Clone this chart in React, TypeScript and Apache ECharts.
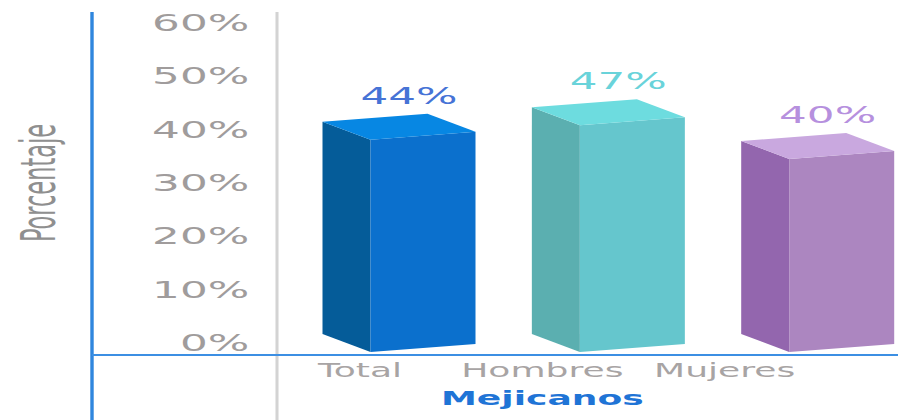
import React, { useEffect, useRef } from "react";
import * as echarts from "echarts";

const categories = ["Total", "Hombres", "Mujeres"];
const values = [44, 47, 40];
const yTicks = [0, 10, 20, 30, 40, 50, 60];
const xAxisTitle = "Mejicanos";
const yAxisTitle = "Porcentaje";
const leftColors = ["#055c99", "#5bafb0", "#9366ae"];
const frontColors = ["#0b70cd", "#65c6cd", "#ac86c0"];
const topColors = ["#0787e3", "#6ddcdf", "#c9a8df"];
const labelColors = ["#4673d6", "#69d3da", "#b690de"];

const S = 1.9;
const W = 898 / S;
const H = 420;

export default function App() {
  const ref = useRef<HTMLDivElement>(null);
  useEffect(() => {
    if (!ref.current) return;
    const chart = echarts.init(ref.current, undefined, { renderer: "svg" });
    const hw = 52.5 / S;
    const dx = -48 / S;
    const dy = -18;
    const slope = -8;
    chart.setOption({
      animation: false,
      backgroundColor: "#ffffff",
      grid: [
        { left: 277 / S, right: 0, top: 23, bottom: 77 },
        { left: 360 / S, right: (898 - 724) / S, top: 23, bottom: 65 },
        { left: 423 / S, right: (898 - 841) / S, top: 24, bottom: 68 },
      ],
      xAxis: [
        { gridIndex: 0, type: "value", show: false, min: 0, max: 1 },
        {
          gridIndex: 1,
          type: "category",
          data: categories,
          boundaryGap: false,
          axisLine: { show: false },
          axisTick: { show: false },
          axisLabel: {
            interval: 0,
            hideOverlap: false,
            margin: 6,
            fontSize: 19,
            color: "#a8a4a4",
            fontFamily: "DejaVu Sans",
          },
          name: xAxisTitle,
          nameLocation: "middle",
          nameGap: 34,
          nameTextStyle: {
            fontSize: 19,
            fontWeight: "bold",
            color: "#1f74d6",
            fontFamily: "DejaVu Sans",
          },
        },
        {
          gridIndex: 2,
          type: "category",
          data: categories,
          boundaryGap: false,
          show: false,
        },
      ],
      yAxis: [
        {
          gridIndex: 0,
          type: "value",
          min: yTicks[0],
          max: yTicks[yTicks.length - 1],
          interval: 10,
          axisLine: { show: false },
          axisTick: { show: false },
          splitLine: { show: false },
          axisLabel: {
            formatter: "{value}%",
            margin: (277 - 245) / S,
            fontSize: 23,
            color: "#a09c9c",
            fontFamily: "DejaVu Sans",
          },
          name: yAxisTitle,
          nameLocation: "middle",
          nameRotate: 90,
          nameGap: 115,
          nameTextStyle: {
            fontSize: 25,
            color: "#8f8f8f",
            fontFamily: "'Liberation Sans Narrow', 'DejaVu Sans Condensed', sans-serif",
          },
        },
        { gridIndex: 1, type: "value", show: false, min: 0, max: 60 },
        { gridIndex: 2, type: "value", show: false, min: 0, max: 68 },
      ],
      graphic: [
        {
          type: "line",
          shape: { x1: 92 / S, y1: 12, x2: 92 / S, y2: H },
          style: { stroke: "#2f86de", lineWidth: 1.8 },
        },
        {
          type: "line",
          shape: { x1: 277 / S, y1: 12, x2: 277 / S, y2: H },
          style: { stroke: "#d3d3d3", lineWidth: 1.6 },
        },
        {
          type: "line",
          shape: { x1: 92 / S, y1: 355, x2: W, y2: 355 },
          style: { stroke: "#3c8fe3", lineWidth: 2 },
        },
      ],
      series: [
        {
          type: "custom",
          xAxisIndex: 2,
          yAxisIndex: 2,
          data: values.map((v, i) => [i, v]),
          encode: { x: 0, y: 1 },
          renderItem: (params: any, api: any) => {
            const i = api.value(0);
            const v = api.value(1);
            const top = api.coord([i, v]);
            const base = api.coord([i, 0]);
            const cx = top[0];
            const yT = top[1];
            const yB = base[1];
            const xl = cx - hw;
            const xr = cx + hw;
            return {
              type: "group",
              children: [
                {
                  type: "polygon",
                  shape: {
                    points: [
                      [xl, yT],
                      [xl + dx, yT + dy],
                      [xl + dx, yB + dy],
                      [xl, yB],
                    ],
                  },
                  style: { fill: leftColors[i] },
                },
                {
                  type: "polygon",
                  shape: {
                    points: [
                      [xl, yT],
                      [xr, yT + slope],
                      [xr, yB + slope],
                      [xl, yB],
                    ],
                  },
                  style: { fill: frontColors[i] },
                },
                {
                  type: "polygon",
                  shape: {
                    points: [
                      [xl, yT],
                      [xr, yT + slope],
                      [xr + dx, yT + slope + dy],
                      [xl + dx, yT + dy],
                    ],
                  },
                  style: { fill: topColors[i] },
                },
                {
                  type: "text",
                  style: {
                    x: cx - 7.4,
                    y: yT - 44,
                    text: v + "%",
                    fill: labelColors[i],
                    fontSize: 23,
                    fontFamily: "DejaVu Sans",
                    align: "center",
                    verticalAlign: "middle",
                  },
                },
              ],
            };
          },
        },
      ],
    });
    return () => chart.dispose();
  }, []);
  return (
    <div
      style={{
        position: "absolute",
        left: 0,
        top: 0,
        width: 898,
        height: 420,
        overflow: "hidden",
        background: "#fff",
      }}
    >
      <div
        ref={ref}
        style={{
          width: W,
          height: H,
          transform: `scaleX(${S})`,
          transformOrigin: "0 0",
        }}
      />
    </div>
  );
}
